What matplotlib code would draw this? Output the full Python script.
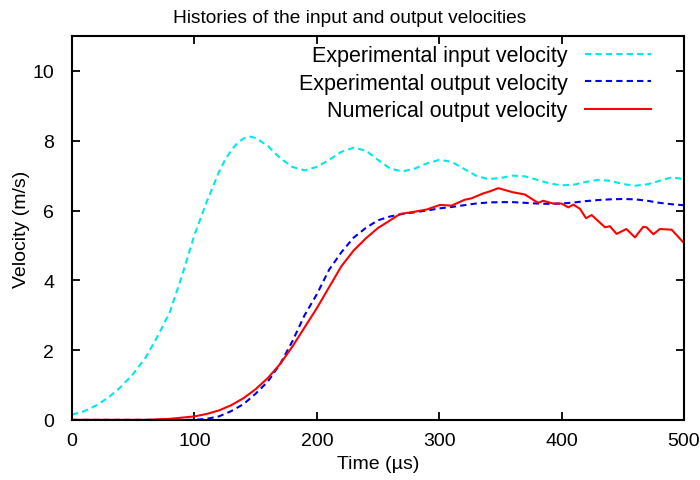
import numpy as np
import matplotlib.pyplot as plt

plt.rcParams['font.family'] = ['Liberation Sans', 'DejaVu Sans']
plt.rcParams['font.size'] = 14

# experimental input velocity (m/s) vs time (us)
t_in = [0, 10, 20, 30, 40, 50, 60, 70, 80, 90, 100, 110, 120, 125, 130, 135, 140,
        145, 150, 160, 170, 180, 190, 200, 210, 220, 230, 240, 250, 260, 270, 280,
        290, 300, 310, 320, 330, 340, 350, 360, 370, 380, 390, 400, 410, 420, 430,
        440, 450, 460, 470, 480, 490, 500]
v_in = [0.15, 0.25, 0.42, 0.65, 0.95, 1.32, 1.78, 2.4, 3.1, 4.15, 5.3, 6.25, 7.1,
        7.45, 7.72, 7.93, 8.06, 8.12, 8.08, 7.85, 7.5, 7.25, 7.15, 7.25, 7.45, 7.68,
        7.8, 7.72, 7.45, 7.2, 7.12, 7.2, 7.35, 7.45, 7.4, 7.2, 7.0, 6.9, 6.93, 7.0,
        6.98, 6.88, 6.78, 6.72, 6.74, 6.82, 6.88, 6.85, 6.76, 6.71, 6.75, 6.85,
        6.95, 6.9]

# experimental output velocity
t_out = [0, 50, 100, 110, 120, 130, 140, 150, 160, 170, 180, 190, 200, 210, 220,
         230, 240, 250, 260, 270, 280, 290, 300, 310, 320, 330, 340, 350, 360, 370,
         380, 390, 400, 410, 420, 430, 440, 450, 460, 470, 480, 490, 500]
v_out = [0.0, 0.0, 0.0, 0.03, 0.1, 0.25, 0.45, 0.75, 1.1, 1.6, 2.25, 3.0, 3.6, 4.3,
         4.8, 5.22, 5.5, 5.72, 5.83, 5.9, 5.95, 6.0, 6.06, 6.1, 6.15, 6.2, 6.23,
         6.24, 6.24, 6.22, 6.2, 6.19, 6.2, 6.23, 6.27, 6.3, 6.32, 6.33, 6.32, 6.28,
         6.22, 6.18, 6.15]

# numerical output velocity
t_num = [0, 60, 80, 100, 110, 120, 130, 140, 150, 160, 170, 180, 190, 200, 210, 220,
         230, 240, 250, 260, 268, 279, 290, 300.6, 310, 321, 326.5, 336, 341.5, 348.3,
         360.5, 370, 378, 381, 385, 393, 400, 405.5, 409.6, 415, 420, 424.6, 435.5,
         439.5, 445, 453, 460, 466.7, 469.5, 475, 480.4, 490, 500]
v_num = [0.0, 0.0, 0.03, 0.1, 0.17, 0.27, 0.42, 0.62, 0.88, 1.2, 1.6, 2.1, 2.65, 3.2,
         3.8, 4.4, 4.85, 5.2, 5.5, 5.72, 5.9, 5.96, 6.03, 6.16, 6.14, 6.31, 6.35, 6.49,
         6.55, 6.64, 6.52, 6.46, 6.28, 6.22, 6.28, 6.2, 6.2, 6.09, 6.17, 6.05, 5.78,
         5.87, 5.52, 5.55, 5.33, 5.47, 5.23, 5.53, 5.52, 5.32, 5.47, 5.45, 5.07]

fig = plt.figure(figsize=(7, 4.81), dpi=100)
ax = fig.add_axes([0.103, 0.125, 0.874, 0.798])

ax.plot(t_in, v_in, color='#00e8e8', lw=1.5, dashes=(3, 2),
        label='Experimental input velocity')
ax.plot(t_out, v_out, color='#0000ee', lw=1.5, dashes=(3, 2),
        label='Experimental output velocity')
ax.plot(t_num, v_num, color='#ff0000', lw=1.5, label='Numerical output velocity')

ax.set_xlim(0, 500)
ax.set_ylim(0, 11)
ax.set_xticks(np.arange(0, 501, 100))
ax.set_yticks(np.arange(0, 11, 2))
ax.tick_params(direction='in', length=6, width=1.3, top=True, right=True, pad=9)
ax.tick_params(axis='y', pad=13)
for s in ax.spines.values():
    s.set_linewidth(1.5)

ax.set_xlabel('Time (µs)', labelpad=4)
ax.set_ylabel('Velocity (m/s)', labelpad=2)
fig.text(0.5, 0.962, 'Histories of the input and output velocities',
         ha='center', va='center', fontsize=13.8)

leg = ax.legend(loc='upper right', frameon=False, markerfirst=False, fontsize=15.5,
                handlelength=3.1, labelspacing=0.3, borderaxespad=0,
                handletextpad=0.8, bbox_to_anchor=(0.961, 0.998))
for col in leg._legend_handle_box.get_children():
    col.align = 'right'

fig.savefig('out.png', dpi=100)
